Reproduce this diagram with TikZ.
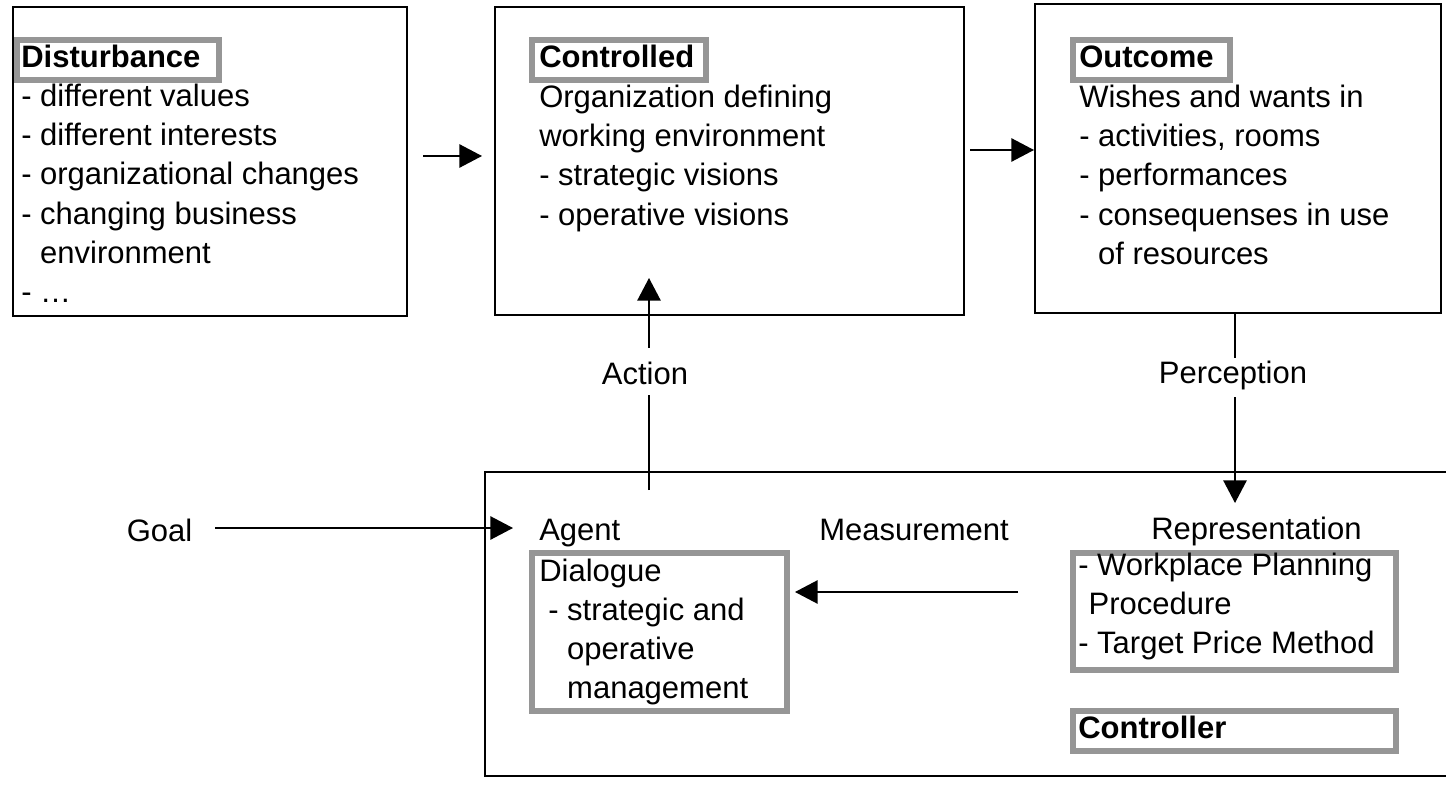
\documentclass[tikz,border=0pt]{standalone}
\usepackage{fontspec}
\setmainfont{Liberation Sans}
\usetikzlibrary{arrows.meta,fit}
\definecolor{framegray}{RGB}{150,150,150}
\newcommand\diagfont{\fontsize{23.25}{29}\selectfont}
\begin{document}
\begin{tikzpicture}[x=0.75pt,y=-0.75pt,
  box/.style={draw=black, line width=1.5pt, inner sep=0pt},
  grayframe/.style={draw=framegray, line width=4.5pt, inner sep=0pt},
  txt/.style={inner sep=0pt, anchor=base west, font=\diagfont},
  ttl/.style={inner sep=0pt, anchor=base west, font=\diagfont\bfseries},
  lab/.style={inner sep=0pt, anchor=base, font=\diagfont},
  wire/.style={line width=1.3pt},
  arr/.style={line width=1.3pt, -{Triangle[length=17pt,width=17.5pt]}}]

\useasboundingbox[fill=white] (0,0) rectangle (1446,788);

% outer blocks of the loop
\node[box, fit={(13,7) (407,316)}] (dist) {};
\node[box, fit={(495,7) (964,315)}] (ctrl) {};
\node[box, fit={(1035,4) (1441,313)}] (outc) {};
\coordinate (cbNE) at (1446,472);
\coordinate (cbNW) at (485,472);
\coordinate (cbSW) at (485,776);
\coordinate (cbSE) at (1446,776);
\draw[line width=1.5pt] (cbNE) -- (cbNW) -- (cbSW) -- (cbSE);

% grey framed text boxes
\node[grayframe, fit={(17,40) (219,80)}] (distT) {};
\node[grayframe, fit={(532,40) (706,80)}] (ctrlT) {};
\node[grayframe, fit={(1073,40) (1230,80)}] (outcT) {};
\node[grayframe, fit={(532,553) (787,711)}] (dlg) {};
\node[grayframe, fit={(1073,553) (1396,670)}] (repr) {};
\node[grayframe, fit={(1073,711) (1396,751)}] (ctlr) {};

% titles
\node[ttl] (distTitle) at (21,68) {Disturbance};
\node[ttl] (ctrlTitle) at (539,68) {Controlled};
\node[ttl] (outcTitle) at (1079,68) {Outcome};
\node[ttl] (ctlrTitle) at (1078,738) {Controller};

% block contents
\foreach \t [count=\i] in {- different values, - different interests,
    - organizational changes, - changing business,
    \hphantom{- }environment, - …}
  \node[txt] (dist-\i) at (21,{68+39*\i}) {\t};
\foreach \t [count=\i] in {Organization defining, working environment,
    - strategic visions, - operative visions}
  \node[txt] (ctrl-\i) at (539,{69+39*\i}) {\t};
\foreach \t [count=\i] in {Wishes and wants in, {- activities, rooms},
    - performances, - consequenses in use, \hphantom{- }of resources}
  \node[txt] (outc-\i) at (1079,{69+39*\i}) {\t};
\node[txt] (dlg-1) at (539,581) {Dialogue};
\foreach \t [count=\i from 2] in {- strategic and, \hphantom{- }operative,
    \hphantom{- }management}
  \node[txt] (dlg-\i) at (548,{581+39*(\i-1)}) {\t};
\foreach \t [count=\i] in {- Workplace Planning, \hphantom{-}Procedure,
    - Target Price Method}
  \node[txt] (repr-\i) at (1078,{575+39*(\i-1)}) {\t};

% loop labels
\node[txt] (goal) at (126.5,541) {Goal};
\node[txt] (agent) at (539,540) {Agent};
\node[txt] (meas) at (819,540) {Measurement};
\node[txt] (reprlab) at (1151,539) {Representation};
\node[lab, text height=27pt, text depth=8.25pt] (act) at (645,384) {Action};
\node[lab, text height=18.75pt, text depth=10.5pt] (perc) at (1233,383) {Perception};

% connectors
\draw[arr, shorten <=11.25pt, shorten >=9pt] (dist.east |- 0,156) -- (ctrl.west |- 0,156);
\draw[arr, shorten <=3.75pt] (ctrl.east |- 0,150) -- (outc.west |- 0,150);

\coordinate (actfoot) at (649,490);
\coordinate (acttip) at (649,278);
\draw[wire] (actfoot) -- (actfoot |- act.south);
\draw[arr] (acttip |- act.north) -- (acttip);

\coordinate (perctip) at (1235,503);
\draw[wire] (outc.south -| perctip) -- (perctip |- perc.north);
\draw[arr] (perctip |- perc.south) -- (perctip);

\draw[arr, shorten <=17pt, shorten >=19.5pt] (goal.east |- 0,528) -- (agent.west |- 0,528);
\draw[arr, shorten <=39pt, shorten >=3.75pt] (repr.west |- 0,592) -- (dlg.east |- 0,592);

\end{tikzpicture}
\end{document}
